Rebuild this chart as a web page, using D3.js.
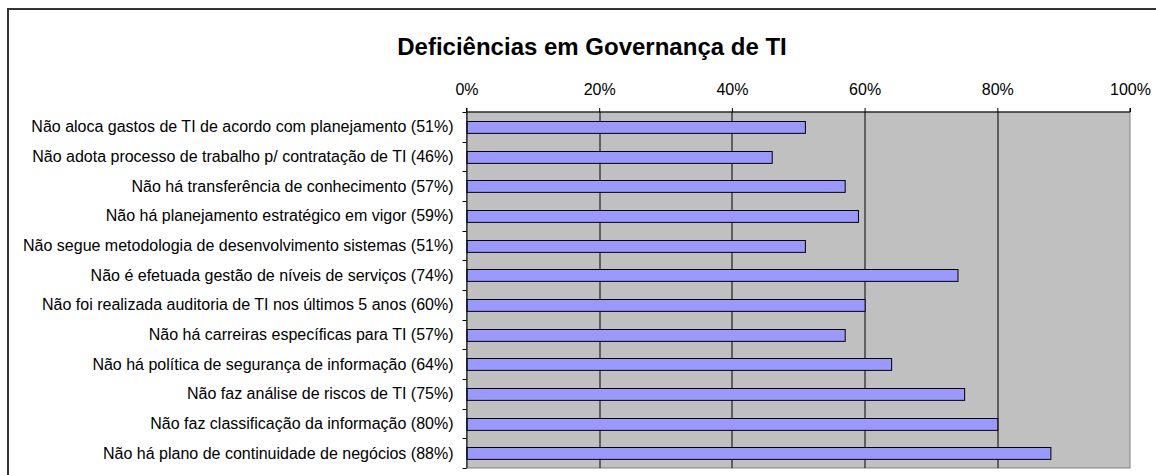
<!DOCTYPE html>
<html>
<head>
<meta charset="utf-8">
<script src="https://cdn.jsdelivr.net/npm/d3@7"></script>
<style>
  body { margin: 0; background: #fff; }
  text { font-family: Arial, "Liberation Sans", sans-serif; }
</style>
</head>
<body>
<div id="chart"></div>
<script>
const categories = [
  "Não aloca gastos de TI de acordo com planejamento (51%)",
  "Não adota processo de trabalho p/ contratação de TI (46%)",
  "Não há transferência de conhecimento (57%)",
  "Não há planejamento estratégico em vigor (59%)",
  "Não segue metodologia de desenvolvimento sistemas (51%)",
  "Não é efetuada gestão de níveis de serviços (74%)",
  "Não foi realizada auditoria de TI nos últimos 5 anos (60%)",
  "Não há carreiras específicas para TI (57%)",
  "Não há política de segurança de informação (64%)",
  "Não faz análise de riscos de TI (75%)",
  "Não faz classificação da informação (80%)",
  "Não há plano de continuidade de negócios (88%)"
];
const values = [51, 46, 57, 59, 51, 74, 60, 57, 64, 75, 80, 88];
const xTicks = [0, 20, 40, 60, 80, 100];
const title = "Deficiências em Governança de TI";

const width = 1156, height = 475;
const margin = { top: 112, right: 26, bottom: 7, left: 466.5 };
const plotW = width - margin.left - margin.right;
const plotH = height - margin.top - margin.bottom;

const svg = d3.select("#chart").append("svg")
  .attr("width", width)
  .attr("height", height);

// chart frame (extends past window on right and bottom)
svg.append("rect")
  .attr("x", 8).attr("y", 9)
  .attr("width", 1300).attr("height", 600)
  .attr("fill", "none")
  .attr("stroke", "#333")
  .attr("stroke-width", 2);

svg.append("text")
  .attr("x", 592)
  .attr("y", 55)
  .attr("text-anchor", "middle")
  .style("font-size", "24px")
  .style("font-weight", "bold")
  .text(title);

const g = svg.append("g").attr("transform", `translate(${margin.left},${margin.top})`);

const x = d3.scaleLinear().domain([0, 100]).range([0, plotW]);
const y = d3.scaleBand().domain(categories).range([0, plotH]).paddingInner(0.6).paddingOuter(0.3);

// plot background
g.append("rect")
  .attr("width", plotW).attr("height", plotH)
  .attr("fill", "#c0c0c0")
  .attr("stroke", "#808080");

// gridlines
g.selectAll(".grid")
  .data(xTicks.filter(d => d > 0 && d < 100))
  .join("line")
  .attr("x1", d => Math.round(x(d)) + 0.5).attr("x2", d => Math.round(x(d)) + 0.5)
  .attr("y1", 0).attr("y2", plotH)
  .attr("stroke", "#000");

// bars
g.selectAll(".bar")
  .data(values)
  .join("rect")
  .attr("x", 0.5)
  .attr("y", (d, i) => Math.round(y(categories[i])) + 0.5)
  .attr("width", d => x(d))
  .attr("height", y.bandwidth())
  .attr("fill", "#9999ff")
  .attr("stroke", "#000");

// top axis
const xAxis = d3.axisTop(x)
  .tickValues(xTicks)
  .tickSize(4)
  .tickPadding(13)
  .tickFormat(d => d + "%");
const xg = g.append("g").call(xAxis);
xg.select(".domain").attr("stroke", "#000").attr("d", `M0,-4V0H${plotW}V-4`);
xg.selectAll("text").style("font-size", "16px").attr("fill", "#000");

// left axis: ticks at band boundaries
const step = plotH / categories.length;
const bounds = d3.range(categories.length + 1).map(i => i * step);
g.append("line")
  .attr("x1", 0.5).attr("x2", 0.5)
  .attr("y1", 0).attr("y2", plotH)
  .attr("stroke", "#000");
g.selectAll(".ytick")
  .data(bounds)
  .join("line")
  .attr("x1", -4).attr("x2", 0)
  .attr("y1", d => Math.round(d) + 0.5).attr("y2", d => Math.round(d) + 0.5)
  .attr("stroke", "#000");

g.selectAll(".ylabel")
  .data(categories)
  .join("text")
  .attr("x", -13)
  .attr("y", (d, i) => (i + 0.5) * step)
  .attr("dy", "0.35em")
  .attr("text-anchor", "end")
  .style("font-size", "16px")
  .text(d => d);
</script>
</body>
</html>
